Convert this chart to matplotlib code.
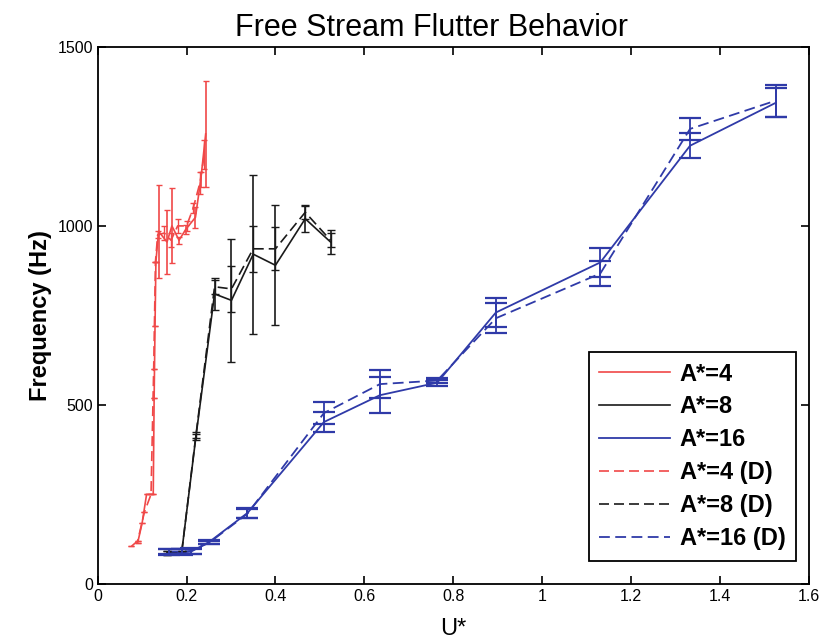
import matplotlib
matplotlib.use("Agg")
import matplotlib.pyplot as plt

plt.rcParams['font.family'] = ['Liberation Sans', 'DejaVu Sans']

# A*=4 (red)
u_red = [0.09, 0.10, 0.11, 0.125, 0.127, 0.129, 0.131, 0.137, 0.156, 0.167, 0.183, 0.198, 0.22, 0.232, 0.243]
f_red = [115, 170, 250, 250, 520, 720, 900, 985, 955, 1000, 960, 990, 1024, 1130, 1257]
e_red = [0, 0, 0, 0, 0, 0, 0, 130, 90, 105, 10, 12, 30, 20, 147]
u_red_d = [0.076, 0.09, 0.105, 0.12, 0.126, 0.13, 0.135, 0.15, 0.165, 0.18, 0.2, 0.215, 0.23, 0.24]
f_red_d = [105, 120, 200, 250, 600, 900, 975, 980, 960, 1000, 1000, 1050, 1120, 1200]
e_red_d = [0, 0, 0, 0, 0, 0, 10, 20, 20, 20, 15, 15, 30, 40]

# A*=8 (black)
u_blk = [0.157, 0.189, 0.221, 0.263, 0.301, 0.35, 0.40, 0.467, 0.524]
f_blk = [86, 88, 411, 810, 792, 921, 890, 1020, 955]
e_blk = [5, 5, 8, 45, 172, 222, 168, 37, 33]
f_blk_d = [86, 88, 415, 830, 824, 936, 936, 1038, 960]
e_blk_d = [5, 5, 8, 20, 65, 65, 60, 20, 20]

# A*=16 (blue)
u_blu = [0.16, 0.19, 0.21, 0.251, 0.337, 0.509, 0.635, 0.764, 0.896, 1.131, 1.333, 1.526]
f_blu = [88, 88, 90, 117, 198, 452, 527, 562, 758, 898, 1224, 1344]
e_blu = [8, 8, 8, 5, 14, 28, 50, 8, 40, 40, 35, 40]
f_blu_d = [90, 90, 92, 115, 196, 477, 558, 568, 742, 867, 1271, 1350]
e_blu_d = [8, 8, 8, 5, 12, 30, 40, 6, 42, 35, 30, 45]

red = '#f04848'
blk = '#1a1a1a'
blu = '#2f3aa8'
dash = (6, 3)

fig = plt.figure(figsize=(8.21, 6.43), dpi=100)
ax = fig.add_axes([0.119, 0.092, 0.866, 0.835])

ax.plot(u_red, f_red, color=red, lw=1.2, label='A*=4')
ax.plot(u_blk, f_blk, color=blk, lw=1.2, label='A*=8')
ax.plot(u_blu, f_blu, color=blu, lw=1.3, label='A*=16')
ax.plot(u_red_d, f_red_d, color=red, lw=1.2, dashes=dash, label='A*=4 (D)')
ax.plot(u_blk, f_blk_d, color=blk, lw=1.2, dashes=dash, label='A*=8 (D)')
ax.plot(u_blu, f_blu_d, color=blu, lw=1.3, dashes=dash, label='A*=16 (D)')

# error bars
ax.errorbar(u_red, f_red, yerr=e_red, fmt='none', ecolor=red, elinewidth=1.2, capsize=2)
ax.errorbar(u_red_d, f_red_d, yerr=e_red_d, fmt='none', ecolor=red, elinewidth=1.0, capsize=2)
ax.errorbar(u_blk, f_blk, yerr=e_blk, fmt='none', ecolor=blk, elinewidth=1.2, capsize=3)
ax.errorbar(u_blk, f_blk_d, yerr=e_blk_d, fmt='none', ecolor=blk, elinewidth=1.0, capsize=3)
ax.errorbar(u_blu, f_blu, yerr=e_blu, fmt='none', ecolor=blu, elinewidth=1.3, capsize=8, capthick=1.6)
ax.errorbar(u_blu, f_blu_d, yerr=e_blu_d, fmt='none', ecolor=blu, elinewidth=1.3, capsize=8, capthick=1.6)

ax.set_xlim(0, 1.6)
ax.set_ylim(0, 1500)
ax.set_xticks([0, 0.2, 0.4, 0.6, 0.8, 1, 1.2, 1.4, 1.6])
ax.set_xticklabels(['0', '0.2', '0.4', '0.6', '0.8', '1', '1.2', '1.4', '1.6'])
ax.set_yticks([0, 500, 1000, 1500])
ax.tick_params(direction='in', top=True, right=True, length=6, labelsize=11.5, width=1.2)
for s in ax.spines.values():
    s.set_linewidth(1.3)

ax.set_title('Free Stream Flutter Behavior', fontsize=22, x=0.47, pad=8)
ax.set_xlabel('U*', fontsize=17, labelpad=10)
ax.set_ylabel('Frequency (Hz)', fontsize=17, fontweight='bold', labelpad=4)

leg = ax.legend(loc='lower right', bbox_to_anchor=(0.982, 0.043), borderaxespad=0,
                fancybox=False, edgecolor='black', framealpha=1,
                prop={'weight': 'bold', 'size': 17},
                handlelength=3.0, labelspacing=0.42, handletextpad=0.4,
                borderpad=0.45)
leg.get_frame().set_linewidth(1.3)

fig.savefig('out.png', dpi=100)
